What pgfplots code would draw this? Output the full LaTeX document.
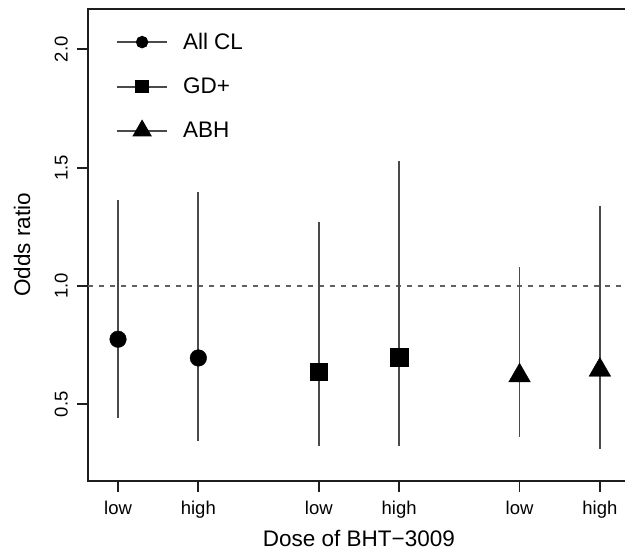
\documentclass[border=0pt]{standalone}
\usepackage{pgfplots}
\pgfplotsset{compat=1.18}
\usepackage{fontspec}
\setmainfont{Liberation Sans}

\definecolor{barc}{HTML}{4A4A4A}
\definecolor{dashc}{HTML}{606060}
\definecolor{axc}{HTML}{1E1E1E}

\begin{document}
\begin{tikzpicture}
\begin{axis}[
    scale only axis,
    width=560pt,
    height=472pt,
    xmin=0.626, xmax=7.6,
    ymin=0.176, ymax=2.17,
    axis line style={axc, line width=1.8pt},
    tick style={axc, line width=1.8pt},
    tick align=outside,
    major tick length=11pt,
    xtick={1,2,3.5,4.5,6,7},
    xticklabels={low,high,low,high,low,high},
    ytick={0.5,1,1.5,2},
    yticklabels={\rotatebox{90}{0.5},\rotatebox{90}{1.0},\rotatebox{90}{1.5},\rotatebox{90}{2.0}},
    xtick pos=bottom,
    ytick pos=left,
    tick label style={font=\fontsize{18.5}{20}\selectfont},
    yticklabel style={anchor=east, inner sep=0pt, xshift=-9pt},
    xticklabel shift=6pt,
    every axis x label/.style={at={(rel axis cs:0.4838,0)}, yshift=-57pt, anchor=center},
    every axis y label/.style={at={(rel axis cs:0,0.5)}, xshift=-66pt, rotate=90, anchor=center},
    label style={font=\fontsize{22.5}{25}\selectfont},
    xlabel={Dose of BHT−3009},
    ylabel={Odds ratio},
    legend style={draw=none, fill=none, at={(rel axis cs:0,1)}, anchor=north west,
        xshift=25pt, yshift=-20pt, font=\fontsize{22.5}{25}\selectfont,
        row sep=23pt, cells={anchor=west},
        /tikz/every odd column/.append style={column sep=13pt}},
    legend cell align=left,
    legend image code/.code={\draw[#1, mark repeat=2, mark phase=2]
        plot coordinates {(0pt,0pt) (25pt,0pt) (50pt,0pt)};},
]

% reference line at odds ratio 1
\addplot[dashc, line width=2pt, dash pattern=on 5pt off 6pt, forget plot]
    coordinates {(0.626,1) (7.6,1)};

% All CL
\addplot[only marks, mark=*, mark size=8.3pt, black, forget plot,
    error bars/.cd, y dir=both, y explicit, error mark=none,
    error bar style={barc, line width=1.8pt}]
    coordinates {
    (1,0.775) += (0,0.587) -= (0,0.331)
    (2,0.696) += (0,0.700) -= (0,0.350)
};

% GD+
\addplot[only marks, mark=square*, mark size=8.6pt, black, forget plot,
    error bars/.cd, y dir=both, y explicit, error mark=none,
    error bar style={barc, line width=1.8pt}]
    coordinates {
    (3.5,0.637) += (0,0.632) -= (0,0.313)
    (4.5,0.699) += (0,0.829) -= (0,0.375)
};

% ABH
\addplot[only marks, mark=triangle*, mark size=12.5pt, black, forget plot,
    error bars/.cd, y dir=both, y explicit, error mark=none,
    error bar style={barc, line width=1.8pt}]
    coordinates {
    (6,0.621) += (0,0.458) -= (0,0.260)
    (7,0.645) += (0,0.694) -= (0,0.334)
};

\addlegendimage{barc, line width=1.8pt, mark=*, mark size=5.3pt, mark options={black, fill=black}}
\addlegendentry{All CL}
\addlegendimage{barc, line width=1.8pt, mark=square*, mark size=5.8pt, mark options={black, fill=black}}
\addlegendentry{GD+}
\addlegendimage{barc, line width=1.8pt, mark=triangle*, mark size=9.5pt, mark options={black, fill=black}}
\addlegendentry{ABH}

\coordinate (bl) at (axis cs:0.626,0.176);
\coordinate (tr) at (axis cs:7.313,2.17);
\end{axis}
\pgfresetboundingbox
\path ([xshift=-88pt,yshift=-70pt]bl) rectangle ([yshift=9pt]tr);
\end{tikzpicture}
\end{document}
